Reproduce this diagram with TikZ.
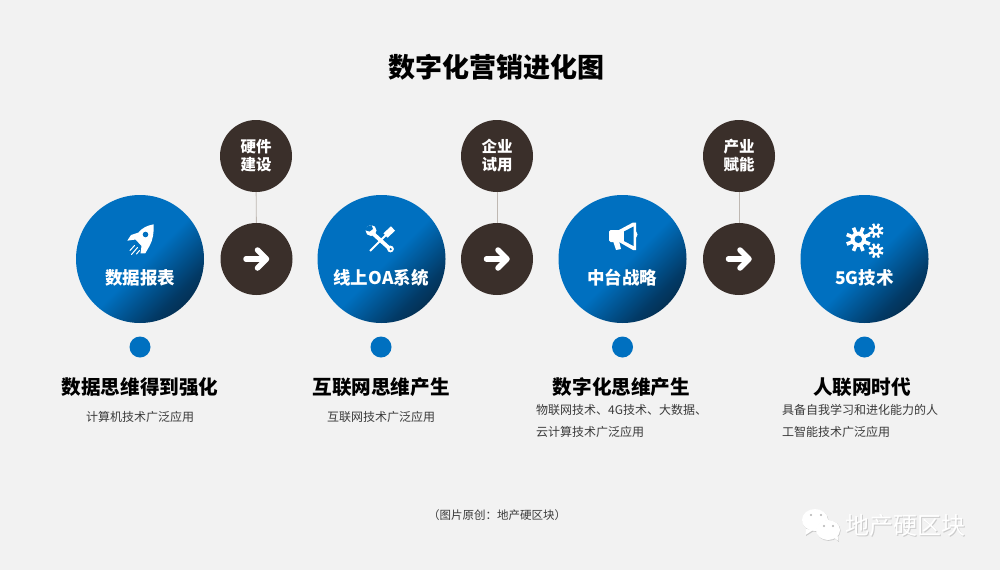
\documentclass[tikz,border=0pt]{standalone}
\usepackage{fontspec}
\setmainfont{Noto Sans CJK SC}
\definecolor{bgc}{HTML}{F2F2F2}
\definecolor{blueA}{HTML}{0070C0}
\definecolor{blueB}{HTML}{023A66}
\definecolor{blueC}{HTML}{071E33}
\definecolor{brownc}{HTML}{3A2F2A}
\definecolor{linkc}{HTML}{BFB8B2}
\definecolor{smallc}{HTML}{3A3A3A}
\pgfdeclareverticalshading{bluedark}{100bp}{color(0bp)=(blueC); color(15bp)=(blueC); color(30bp)=(blueB); color(48bp)=(blueA); color(100bp)=(blueA)}
\tikzset{
  bigc/.style={circle,minimum size=128pt,inner sep=0pt,shading=bluedark,shading angle=45},
  darkc/.style={circle,minimum size=72pt,inner sep=0pt,fill=brownc,text=white,font=\bfseries\fontsize{15.5pt}{19pt}\selectfont,align=center},
  dotc/.style={circle,minimum size=21pt,inner sep=0pt,fill=blueA},
  biglabel/.style={text=white,font=\bfseries\fontsize{17.5pt}{20pt}\selectfont,inner sep=0pt},
  headl/.style={text=black,font=\bfseries\fontsize{19.6pt}{22pt}\selectfont,inner sep=0pt},
  smalll/.style={text=smallc,font=\fontsize{12pt}{22pt}\selectfont,inner sep=0pt,align=left},
  link/.style={draw=linkc,line width=0.9pt},
  arrowi/.style={draw=white,line width=5.5pt,line cap=round,line join=round},
}
\newcommand{\mygear}[5]{%
  \foreach \a in {0,45,...,315}{\draw[white,line width=#5] ($(#1,#2)+(\a+22.5:#4*0.7)$) -- ($(#1,#2)+(\a+22.5:#3)$);}
  \fill[white] (#1,#2) circle[radius=#4*0.85];
  \fill[blueA] (#1,#2) circle[radius=#4*0.42];
}
\usetikzlibrary{calc}
\begin{document}
\begin{tikzpicture}[x=1pt,y=-1pt]
\useasboundingbox (0,0) rectangle (1000,570);
\fill[bgc] (0,0) rectangle (1000,570);
\node[font=\bfseries\fontsize{27pt}{30pt}\selectfont,text=black,inner sep=0pt] (title) at (496,67) {数字化营销进化图};

\node[bigc] (b1) at (140,259) {};
\node[bigc] (b2) at (381.5,259) {};
\node[bigc] (b3) at (622.5,259) {};
\node[bigc] (b4) at (864.5,259) {};
\node[biglabel] (l1) at (140,278) {数据报表};
\node[biglabel] (l2) at (381,278) {线上OA系统};
\node[biglabel] (l3) at (622,278) {中台战略};
\node[biglabel] (l4) at (864.5,278) {5G技术};

\node[darkc] (t1) at (256,156) {硬件\\[-1pt]建设};
\node[darkc] (t2) at (497,156) {企业\\[-1pt]试用};
\node[darkc] (t3) at (739,156) {产业\\[-1pt]赋能};
\node[darkc] (a1) at (256.5,259) {};
\node[darkc] (a2) at (497,259) {};
\node[darkc] (a3) at (739,259) {};
\draw[link] (t1) -- (a1);
\draw[link] (t2) -- (a2);
\draw[link] (t3) -- (a3);
\foreach \n in {a1,a2,a3}{
  \draw[arrowi] ($(\n)+(-10.5,0)$) -- ($(\n)+(9,0)$);
  \draw[arrowi] ($(\n)+(1,-9)$) -- ($(\n)+(10,0)$) -- ($(\n)+(1,9)$);
}

\node[dotc] (d1) at (140,347) {};
\node[dotc] (d2) at (381,347) {};
\node[dotc] (d3) at (622.5,347) {};
\node[dotc] (d4) at (864.5,347) {};
\node[headl] (h1) at (140,387) {数据思维得到强化};
\node[headl] (h2) at (381,387) {互联网思维产生};
\node[headl] (h3) at (621.5,387) {数字化思维产生};
\node[headl] (h4) at (862,387) {人联网时代};
\node[smalll] (s1) at (140,417) {计算机技术广泛应用};
\node[smalll] (s2) at (381,417) {互联网技术广泛应用};
\node[smalll,anchor=north west] (s3) at (536,404) {物联网技术、4G技术、大数据、\\云计算技术广泛应用};
\node[smalll,anchor=north west] (s4) at (782,404) {具备自我学习和进化能力的人\\工智能技术广泛应用};
\node[smalll,font=\fontsize{11.5pt}{14pt}\selectfont] (foot) at (497,515) {（图片原创：地产硬区块）};

% rocket
\fill[white] (153.7,224.3) .. controls (147,225.5) and (142,228) .. (138.5,232.5) -- (131,235) -- (127.3,240.7) -- (135.5,239.5) -- (141.5,246) -- (140.5,253.5) -- (145.3,253.3) -- (149.5,246) .. controls (153,240) and (154,232) .. (153.7,224.3) -- cycle;
\fill[blueA] (145.5,234.5) circle[radius=2.8];
\draw[white,line width=1pt,line cap=round] (134.5,245.5) -- (130,250.5) (137.5,247.5) -- (131.5,254.5) (139.5,250.5) -- (136.5,254);

% tools
\draw[white,line width=1.8pt] (370,251) -- (386,235);
\draw[white,line width=6pt] (385.5,235.5) -- (393,228.5);
\draw[white,line width=3.8pt] (373,233.5) -- (389,248);
\fill[white] (371,230.5) circle[radius=5.5];
\fill[blueA] (367,226.5) -- (371.5,225) -- (373,229) -- (369.5,231.5) -- (364.5,230) -- cycle;
\fill[white] (390.5,249) circle[radius=3.4];
\fill[blueA] (390.7,249.2) circle[radius=1.2];

% megaphone
\fill[white,rounded corners=1.5pt] (609,230) rectangle (620,242);
\fill[white] (619,230) -- (633,222.5) -- (636,222.5) -- (636,231) -- (637.5,234.5) -- (636,238) -- (636,250) -- (633,250) -- (619,242) -- cycle;
\fill[blueA] (624,231.5) -- (633.5,226.5) -- (633.5,246) -- (624,241) -- cycle;
\fill[white] (613,241) -- (619,241) -- (621,249) -- (616,250) -- cycle;

% gears
\mygear{858.3}{239.3}{12.5}{9}{3.6pt}
\mygear{876}{230.7}{7.5}{5.5}{2.3pt}
\mygear{876}{250.7}{7.5}{5.5}{2.3pt}

% watermark
\begin{scope}
\fill[black!22] (815.6,520.8) ellipse[x radius=13,y radius=11];
\fill[black!22] (806.5,530) -- (806,536) -- (814,531) -- cycle;
\fill[white] (815,520) ellipse[x radius=13,y radius=11];
\fill[white] (806,529) -- (805.5,535) -- (813,530) -- cycle;
\fill[black!22] (828.6,530.6) ellipse[x radius=12,y radius=10.2];
\fill[black!22] (834,538) -- (839,542) -- (838,536) -- cycle;
\fill[white] (828,530) ellipse[x radius=12,y radius=10];
\fill[white] (833.5,537.5) -- (838.5,541) -- (837.5,535.5) -- cycle;
\fill[black!30] (811,515) circle[radius=1.1] (821,515) circle[radius=1.1] (824,526) circle[radius=1.1] (833,526) circle[radius=1.1];
\end{scope}
\node[text=black!20,font=\fontsize{24pt}{26pt}\selectfont,inner sep=0pt] (wms) at (906.4,526.6) {地产硬区块};
\node[text=white,font=\fontsize{24pt}{26pt}\selectfont,inner sep=0pt] (wm) at (905.5,525.8) {地产硬区块};
\end{tikzpicture}
\end{document}
